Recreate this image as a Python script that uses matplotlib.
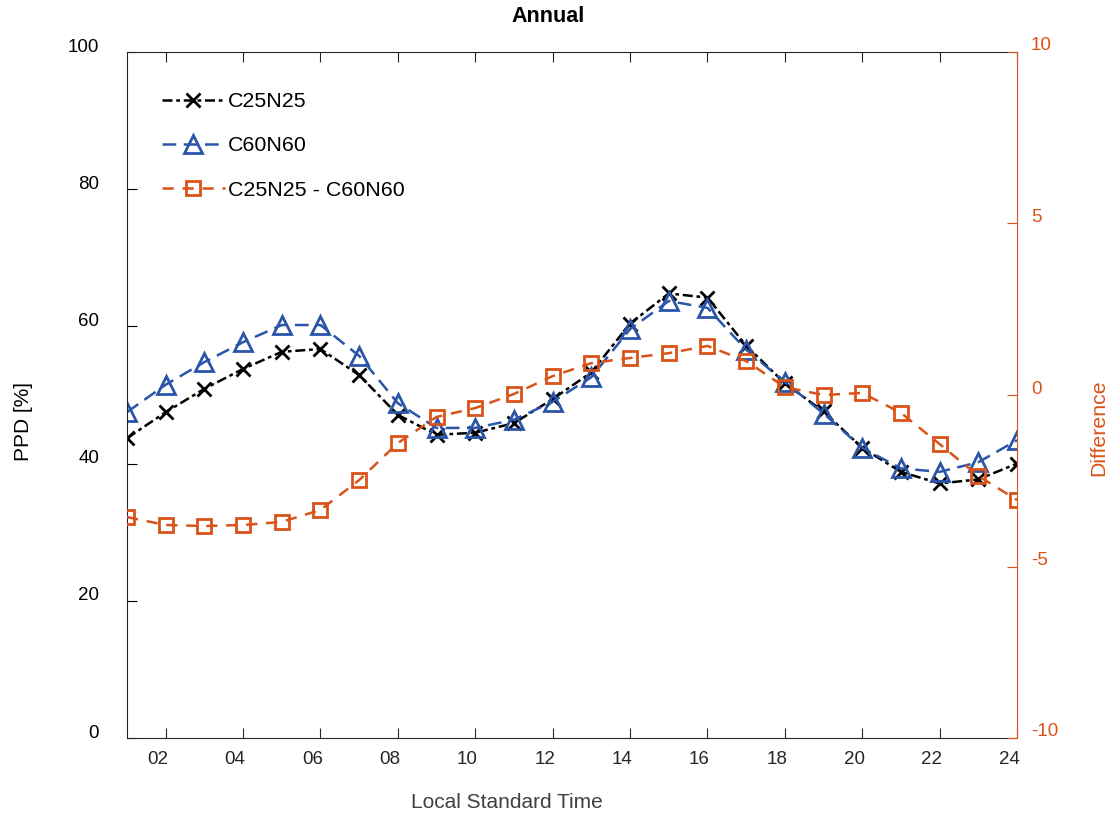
import numpy as np
import matplotlib
matplotlib.use('Agg')
import matplotlib.pyplot as plt
from matplotlib.transforms import ScaledTranslation

plt.rcParams['font.family'] = ['Liberation Sans', 'DejaVu Sans']
plt.rcParams['axes.unicode_minus'] = False

hours = np.arange(1, 25)
xtick_vals = np.arange(2, 25, 2)
xtick_labels = ['%02d' % h for h in xtick_vals]

c25n25 = [43.7, 47.5, 50.9, 53.8, 56.3, 56.7, 52.9, 47.1, 44.2, 44.5, 45.9, 49.4,
          53.3, 60.4, 64.8, 64.2, 57.2, 51.7, 47.6, 42.3, 38.8, 37.1, 37.7, 40.0]
c60n60 = [47.5, 51.5, 54.8, 57.7, 60.2, 60.2, 55.7, 48.8, 45.2, 45.2, 46.4, 49.0,
          52.6, 59.6, 63.7, 62.7, 56.6, 51.9, 47.3, 42.3, 39.3, 38.8, 40.2, 43.4]
diff = [-3.56, -3.79, -3.82, -3.79, -3.70, -3.35, -2.48, -1.40, -0.64, -0.38, 0.03, 0.55,
        0.93, 1.08, 1.22, 1.43, 0.99, 0.23, 0.0, 0.06, -0.52, -1.43, -2.36, -3.06]

black = 'black'
blue = '#2B55A8'
orange = '#D95319'
axcol = '#262626'

fig = plt.figure(figsize=(11.12, 8.19), dpi=100)
ax = fig.add_axes([127/1112, 1-738/819, 890/1112, 686/819])
ax2 = ax.twinx()

l1, = ax.plot(hours, c25n25, color=black, lw=1.8, ls=(0, (4, 1.5, 1.5, 1.5)),
              marker='x', ms=10, mew=2, label='C25N25')
l2, = ax.plot(hours, c60n60, color=blue, lw=1.8, ls=(0, (5.5, 3)),
              marker='^', ms=13, mew=2, mfc='none', label='C60N60')
l3, = ax2.plot(hours, diff, color=orange, lw=1.8, ls=(0, (4.5, 3.5)),
               marker='s', ms=10, mew=2, mfc='none', label='C25N25 - C60N60')

ax.set_xlim(1, 24)
ax.set_ylim(0, 100)
ax2.set_ylim(-10, 10)
ax.set_xticks(xtick_vals)
ax.set_xticklabels(xtick_labels)
ax.set_yticks(np.arange(0, 101, 20))
ax2.set_yticks(np.arange(-10, 11, 5))

ax.tick_params(axis='x', direction='in', length=7, top=True, labelsize=13.5,
               colors=axcol, pad=9)
ax.tick_params(axis='y', direction='in', length=7, labelsize=13.5, colors=black, pad=20)
ax2.tick_params(axis='y', direction='in', length=7, labelsize=13.5, colors=orange, pad=10)

for s in ['left', 'top', 'bottom']:
    ax.spines[s].set_color(axcol)
ax.spines['right'].set_visible(False)
for s in ['left', 'top', 'bottom']:
    ax2.spines[s].set_visible(False)
ax2.spines['right'].set_color(orange)

# shift tick labels the way the original renders them
for lab in ax.get_xticklabels():
    lab.set_transform(lab.get_transform() + ScaledTranslation(-8/100, 0, fig.dpi_scale_trans))
for lab in ax.get_yticklabels():
    lab.set_transform(lab.get_transform() + ScaledTranslation(0, 7/100, fig.dpi_scale_trans))
for lab in ax2.get_yticklabels():
    lab.set_transform(lab.get_transform() + ScaledTranslation(0, 8/100, fig.dpi_scale_trans))

ax.set_xlabel('Local Standard Time', fontsize=15, color='#404040')
ax.xaxis.set_label_coords(0.427, -0.08)
ax.set_ylabel('PPD [%]', fontsize=15, color=black)
ax.yaxis.set_label_coords(-0.106, 0.461)
ax2.set_ylabel('Difference', fontsize=15.3, color=orange)
ax2.yaxis.set_label_coords(1.081, 0.453)

ax.text(0.473, 1 + 35/686, 'Annual', transform=ax.transAxes, ha='center', va='center',
        fontsize=15.5, fontweight='bold', color=black)

ax2.legend(handles=[l1, l2, l3], loc='upper left', bbox_to_anchor=(0.039, 0.941),
           frameon=False, fontsize=15.4, handlelength=2.95, handletextpad=0.15,
           labelspacing=1.17, borderpad=0, borderaxespad=0, numpoints=1)

fig.savefig('out.png', dpi=100)
